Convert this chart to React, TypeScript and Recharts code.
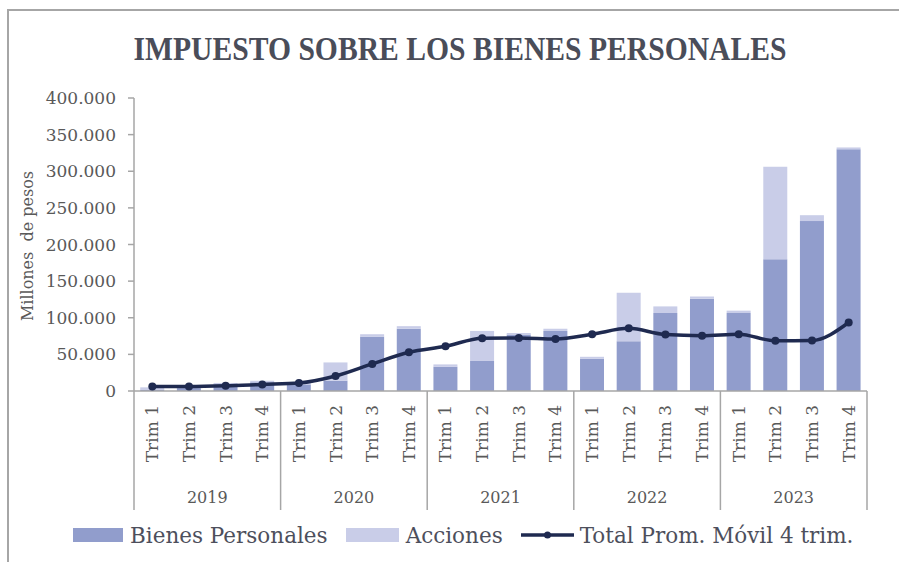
import React from 'react';
import { ComposedChart, Bar, Line, XAxis, YAxis } from 'recharts';

const years = ['2019', '2020', '2021', '2022', '2023'];
const quarters = ['Trim 1', 'Trim 2', 'Trim 3', 'Trim 4'];
// values in millones de pesos
const bienesPersonales = [2000, 4000, 6000, 12000, 9000, 14000, 74000, 85000, 33000, 41000, 77000, 82000, 44000, 68000, 106500, 126000, 106500, 180000, 232000, 330000];
const acciones = [3000, 4000, 5000, 2000, 2000, 25000, 3500, 3500, 3300, 41000, 2200, 3000, 2700, 66000, 9000, 3000, 3200, 126000, 8000, 2500];
const promedioMovil = [6000, 6000, 7000, 9000, 11000, 20500, 37000, 53000, 61000, 72000, 72500, 71000, 77500, 85500, 77000, 75500, 77500, 68500, 69000, 93500];
const yTicks = [0, 50000, 100000, 150000, 200000, 250000, 300000, 350000, 400000];

const data = bienesPersonales.map((bp, i) => ({
  id: `${years[Math.floor(i / 4)]} ${quarters[i % 4]}`,
  year: years[Math.floor(i / 4)],
  quarter: quarters[i % 4],
  bp,
  acc: acciones[i],
  avg: promedioMovil[i],
}));

const W = 899;
const H = 562;
const M = { top: 98, right: 32, left: 74, bottom: 41 };
const Y_AXIS_W = 60;
const X_AXIS_H = 130;
const PLOT_LEFT = M.left + Y_AXIS_W;
const PLOT_RIGHT = W - M.right;
const PLOT_BOTTOM = H - M.bottom - X_AXIS_H;
const BAND = (PLOT_RIGHT - PLOT_LEFT) / data.length;

const C_BP = '#919dcc';
const C_ACC = '#c9cde8';
const C_LINE = '#1f2a50';
const C_AXIS = '#a6a6a6';
const C_TEXT = '#595959';
const FONT = '"DejaVu Serif", serif';

const fmt = (v: number) => String(v).replace(/\B(?=(\d{3})+(?!\d))/g, '.');

const XTick = (props: any) => {
  const { x, payload } = props;
  const index = props.index ?? payload?.index ?? 0;
  const d = data[index];
  const sepBottom = 510;
  return (
    <g>
      <text
        x={x}
        y={405}
        transform={`rotate(-90 ${x} 405)`}
        textAnchor="end"
        dy="0.35em"
        fontFamily={FONT}
        fontSize={17}
        fill={C_TEXT}
      >
        {d ? d.quarter : ''}
      </text>
      {index % 4 === 0 && (
        <line x1={x - BAND / 2} x2={x - BAND / 2} y1={PLOT_BOTTOM} y2={sepBottom} stroke={C_AXIS} strokeWidth={1.5} />
      )}
      {index === data.length - 1 && (
        <line x1={x + BAND / 2} x2={x + BAND / 2} y1={PLOT_BOTTOM} y2={sepBottom} stroke={C_AXIS} strokeWidth={1.5} />
      )}
      {index % 4 === 1 && d && (
        <text x={x + BAND / 2} y={503} textAnchor="middle" fontFamily={FONT} fontSize={16} fill={C_TEXT}>
          {d.year}
        </text>
      )}
    </g>
  );
};

const YLabel = () => (
  <text
    x={27}
    y={246}
    transform="rotate(-90 27 246)"
    textAnchor="middle"
    dy="0.35em"
    fontFamily={FONT}
    fontSize={16}
    fill={C_TEXT}
    style={{ whiteSpace: 'pre' }}
  >
    Millones  de pesos
  </text>
);

const legendItems = [
  { name: 'Bienes Personales', type: 'bar', color: C_BP },
  { name: 'Acciones', type: 'bar', color: C_ACC },
  { name: 'Total Prom. Móvil 4 trim.', type: 'line', color: C_LINE },
];

export default function App() {
  return (
    <div style={{ position: 'absolute', left: 0, top: 0, width: W, height: H, background: '#fff' }}>
      <div
        style={{
          position: 'absolute',
          left: 7,
          top: 9,
          width: W - 7,
          height: H - 9,
          borderTop: `2px solid ${C_AXIS}`,
          borderLeft: `2px solid ${C_AXIS}`,
          boxSizing: 'border-box',
        }}
      />
      <svg style={{ position: 'absolute', left: 0, top: 0 }} width={W} height={80}>
        <text
          x={460}
          y={60}
          textAnchor="middle"
          fontFamily='"Liberation Serif", serif'
          fontWeight="bold"
          fontSize={33}
          fill="#4a4d59"
          textLength={653}
          lengthAdjust="spacingAndGlyphs"
        >
          IMPUESTO SOBRE LOS BIENES PERSONALES
        </text>
      </svg>
      <div style={{ position: 'absolute', left: 0, top: 0 }}>
        <ComposedChart width={W} height={H} data={data} margin={M} barCategoryGap="17%">
          <XAxis
            dataKey="id"
            interval={0}
            height={X_AXIS_H}
            tick={<XTick />}
            tickLine={false}
            axisLine={{ stroke: C_AXIS, strokeWidth: 1.5 }}
          />
          <YAxis
            width={Y_AXIS_W}
            domain={[0, 400000]}
            ticks={yTicks}
            tickFormatter={fmt}
            tickSize={6}
            tickMargin={12}
            tick={{ fontFamily: FONT, fontSize: 17, fill: C_TEXT }}
            tickLine={{ stroke: C_AXIS, strokeWidth: 1.5 }}
            axisLine={{ stroke: C_AXIS, strokeWidth: 1.5 }}
            label={<YLabel />}
          />
          <Bar dataKey="bp" stackId="a" fill={C_BP} isAnimationActive={false} />
          <Bar dataKey="acc" stackId="a" fill={C_ACC} isAnimationActive={false} />
          <Line
            dataKey="avg"
            type="monotone"
            stroke={C_LINE}
            strokeWidth={3.5}
            dot={{ r: 4, fill: C_LINE, stroke: C_LINE, strokeWidth: 0 }}
            activeDot={false}
            isAnimationActive={false}
          />
        </ComposedChart>
      </div>
      <div
        style={{
          position: 'absolute',
          left: 73,
          top: 522,
          height: 26,
          display: 'flex',
          alignItems: 'center',
          fontFamily: FONT,
          fontSize: 21.5,
          color: '#4d4f5c',
          whiteSpace: 'nowrap',
        }}
      >
        {legendItems.map((it, i) => (
          <div key={it.name} style={{ display: 'flex', alignItems: 'center', marginRight: i < legendItems.length - 1 ? 18 : 0 }}>
            {it.type === 'bar' ? (
              <div style={{ width: it.name === 'Acciones' ? 53 : 50, height: 14, background: it.color, marginRight: 7 }} />
            ) : (
              <svg width={53} height={14} style={{ marginRight: 6 }}>
                <line x1={0} x2={53} y1={7} y2={7} stroke={it.color} strokeWidth={3.5} />
                <circle cx={26.5} cy={7} r={3.5} fill={it.color} />
              </svg>
            )}
            <span>{it.name}</span>
          </div>
        ))}
      </div>
    </div>
  );
}
